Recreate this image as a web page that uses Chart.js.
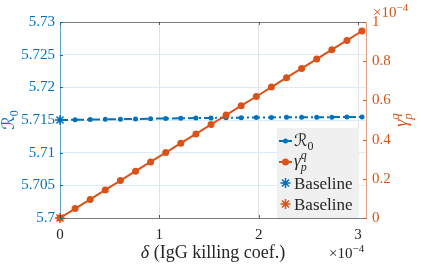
<!DOCTYPE html>
<html>
<head>
<meta charset="utf-8">
<script src="https://cdn.jsdelivr.net/npm/chart.js@4"></script>
<style>
  body { margin: 0; background: #fff; }
  canvas { display: block; }
</style>
</head>
<body>
<canvas id="chart" width="421" height="269"></canvas>
<script>
// delta in units of 1e-4, gamma in units of 1e-4
const delta = [0, 0.152, 0.304, 0.456, 0.608, 0.76, 0.912, 1.064, 1.216, 1.368, 1.52,
               1.672, 1.824, 1.976, 2.128, 2.28, 2.432, 2.584, 2.736, 2.888, 3.04];
const r0 = [5.7150, 5.71503, 5.71506, 5.7151, 5.71513, 5.71516, 5.7152, 5.71523, 5.71526, 5.7153, 5.71532,
            5.71534, 5.71536, 5.71538, 5.7154, 5.71541, 5.71542, 5.71543, 5.71544, 5.71545, 5.71546];
const gamma = [0, 0.048, 0.095, 0.143, 0.191, 0.239, 0.286, 0.334, 0.382, 0.429, 0.477,
               0.525, 0.573, 0.620, 0.668, 0.716, 0.763, 0.811, 0.859, 0.906, 0.954];
const baselineR0 = [5.7150];
const baselineGamma = [0];
const baselineDelta = [0];

const BLUE = '#0072BD';
const ORANGE = '#D95319';
const DARK = '#262626';
const SERIF = '"Liberation Serif", "DejaVu Serif", serif';

// draws a run of text pieces (for sub/superscripts)
function drawRich(ctx, x, y, parts) {
    parts.forEach(p => {
        ctx.font = p.font;
        ctx.fillText(p.t, x, y + (p.dy || 0));
        if (!p.stay) x += ctx.measureText(p.t).width;
    });
}

function widthOf(ctx, parts) {
    let w = 0;
    parts.forEach(p => { ctx.font = p.font; if (!p.stay) w += ctx.measureText(p.t).width; });
    return w;
}

const r0Parts = (size) => [
    {t: 'ℛ', font: `${size}px "DejaVu Serif", "DejaVu Sans", serif`},
    {t: '0', font: `${Math.round(size * 0.7)}px ${SERIF}`, dy: size * 0.25}
];
const gammaParts = (size) => [
    {t: 'γ', font: `italic ${size}px ${SERIF}`},
    {t: 'p', font: `italic ${Math.round(size * 0.7)}px ${SERIF}`, dy: size * 0.3, stay: true},
    {t: 'q', font: `italic ${Math.round(size * 0.7)}px ${SERIF}`, dy: -size * 0.42}
];

const decorPlugin = {
    id: 'decor',
    afterDraw(chart) {
        const {ctx, chartArea: {left, top, right, bottom}, scales} = chart;
        ctx.save();

        // top box line
        ctx.strokeStyle = 'rgba(38,38,38,0.55)';
        ctx.lineWidth = 1;
        ctx.beginPath();
        ctx.moveTo(left, top + 0.5);
        ctx.lineTo(right, top + 0.5);
        ctx.stroke();

        // inward tick marks
        const tl = 3;
        ctx.strokeStyle = 'rgba(38,38,38,0.7)';
        scales.x.ticks.forEach(t => {
            const px = Math.round(scales.x.getPixelForValue(t.value)) + 0.5;
            ctx.beginPath();
            ctx.moveTo(px, bottom); ctx.lineTo(px, bottom - tl);
            ctx.moveTo(px, top); ctx.lineTo(px, top + tl);
            ctx.stroke();
        });
        ctx.strokeStyle = BLUE;
        scales.y.ticks.forEach(t => {
            const py = Math.round(scales.y.getPixelForValue(t.value)) + 0.5;
            ctx.beginPath(); ctx.moveTo(left, py); ctx.lineTo(left + tl, py); ctx.stroke();
        });
        ctx.strokeStyle = ORANGE;
        scales.y1.ticks.forEach(t => {
            const py = Math.round(scales.y1.getPixelForValue(t.value)) + 0.5;
            ctx.beginPath(); ctx.moveTo(right, py); ctx.lineTo(right - tl, py); ctx.stroke();
        });

        ctx.textBaseline = 'alphabetic';
        ctx.textAlign = 'left';

        // x axis title
        ctx.fillStyle = DARK;
        const xParts = [
            {t: 'δ', font: `italic 18px ${SERIF}`},
            {t: ' (IgG killing coef.)', font: `18px ${SERIF}`}
        ];
        const xw = widthOf(ctx, xParts);
        drawRich(ctx, (left + right) / 2 - xw / 2, 258, xParts);

        // exponent labels
        const expParts = [
            {t: '×10', font: `15px ${SERIF}`},
            {t: '−4', font: `11px ${SERIF}`, dy: -6}
        ];
        drawRich(ctx, 329, 258, expParts);
        ctx.fillStyle = ORANGE;
        drawRich(ctx, 373, 17, expParts);

        // left axis title
        ctx.fillStyle = BLUE;
        ctx.save();
        ctx.translate(14, (top + bottom) / 2);
        ctx.rotate(-Math.PI / 2);
        const lp = r0Parts(17);
        drawRich(ctx, -widthOf(ctx, lp) / 2, 0, lp);
        ctx.restore();

        // right axis title
        ctx.fillStyle = ORANGE;
        ctx.save();
        ctx.translate(407, (top + bottom) / 2);
        ctx.rotate(-Math.PI / 2);
        const rp = gammaParts(18);
        drawRich(ctx, -widthOf(ctx, rp) / 2, 0, rp);
        ctx.restore();

        // legend
        const lx = 277, ly = 128, lw = 82, lh = 90;
        ctx.fillStyle = '#f0f0f0';
        ctx.fillRect(lx, ly, lw, lh);
        const rowY = [141, 162, 183, 204];
        const sx0 = lx + 2, sx1 = lx + 15, mx = lx + 8.5, tx = lx + 17;

        // R0 row
        ctx.strokeStyle = BLUE; ctx.fillStyle = BLUE; ctx.lineWidth = 2;
        ctx.beginPath(); ctx.moveTo(sx0, rowY[0]); ctx.lineTo(sx1, rowY[0]); ctx.stroke();
        ctx.beginPath(); ctx.arc(mx, rowY[0], 2.5, 0, Math.PI * 2); ctx.fill();
        ctx.fillStyle = DARK;
        drawRich(ctx, tx, rowY[0] + 5, r0Parts(17));

        // gamma row
        ctx.strokeStyle = ORANGE; ctx.fillStyle = ORANGE;
        ctx.beginPath(); ctx.moveTo(sx0, rowY[1]); ctx.lineTo(sx1, rowY[1]); ctx.stroke();
        ctx.beginPath(); ctx.arc(mx, rowY[1], 3.5, 0, Math.PI * 2); ctx.fill();
        ctx.fillStyle = DARK;
        drawRich(ctx, tx, rowY[1] + 4, gammaParts(17));

        // baseline rows
        ctx.lineWidth = 1.5;
        [[BLUE, rowY[2]], [ORANGE, rowY[3]]].forEach(([c, y]) => {
            ctx.strokeStyle = c;
            ctx.beginPath();
            for (let a = 0; a < 4; a++) {
                const ang = a * Math.PI / 4;
                ctx.moveTo(mx - 5 * Math.cos(ang), y - 5 * Math.sin(ang));
                ctx.lineTo(mx + 5 * Math.cos(ang), y + 5 * Math.sin(ang));
            }
            ctx.stroke();
            ctx.fillStyle = DARK;
            ctx.font = `17px ${SERIF}`;
            ctx.fillText('Baseline', tx, y + 6);
        });

        ctx.restore();
    }
};

const ctx = document.getElementById('chart').getContext('2d');
new Chart(ctx, {
    type: 'line',
    data: {
        datasets: [
            {
                label: 'Baseline R0',
                data: baselineDelta.map((d, i) => ({x: d, y: baselineR0[i]})),
                yAxisID: 'y',
                showLine: false,
                pointStyle: 'star',
                pointRadius: 5,
                pointBorderWidth: 1.5,
                borderColor: BLUE,
                backgroundColor: BLUE,
                order: 0,
                clip: false
            },
            {
                label: 'Baseline gamma',
                data: baselineDelta.map((d, i) => ({x: d, y: baselineGamma[i]})),
                yAxisID: 'y1',
                showLine: false,
                pointStyle: 'star',
                pointRadius: 5,
                pointBorderWidth: 1.5,
                borderColor: ORANGE,
                backgroundColor: ORANGE,
                order: 0,
                clip: false
            },
            {
                label: 'gamma',
                data: delta.map((d, i) => ({x: d, y: gamma[i]})),
                yAxisID: 'y1',
                borderColor: ORANGE,
                backgroundColor: ORANGE,
                borderWidth: 2,
                pointRadius: 3.5,
                pointBorderWidth: 0,
                order: 1,
                clip: false
            },
            {
                label: 'R0',
                data: delta.map((d, i) => ({x: d, y: r0[i]})),
                yAxisID: 'y',
                borderColor: BLUE,
                backgroundColor: BLUE,
                borderWidth: 2,
                borderDash: [8, 3, 2, 3],
                pointRadius: 2.5,
                pointBorderWidth: 0,
                order: 2,
                clip: false
            }
        ]
    },
    options: {
        responsive: false,
        animation: false,
        devicePixelRatio: 1,
        layout: { padding: { top: 22, left: 0, right: 0, bottom: 0 } },
        plugins: {
            legend: { display: false },
            tooltip: { enabled: false }
        },
        scales: {
            x: {
                type: 'linear',
                min: 0,
                max: 3.08,
                afterFit: s => { s.height = 51; },
                border: { color: 'rgba(38,38,38,0.55)' },
                grid: { color: '#e2e2e2', drawTicks: false },
                ticks: {
                    stepSize: 1,
                    includeBounds: false,
                    padding: 8,
                    color: DARK,
                    font: { family: SERIF, size: 15 },
                    callback: v => v
                }
            },
            y: {
                position: 'left',
                min: 5.7,
                max: 5.73,
                afterFit: s => { s.width = 60; },
                border: { color: 'rgba(0,114,189,0.55)' },
                grid: { color: '#dcebf5', drawTicks: false },
                ticks: {
                    stepSize: 0.005,
                    includeBounds: false,
                    padding: 5,
                    color: BLUE,
                    font: { family: SERIF, size: 15 },
                    callback: v => +v.toFixed(3)
                }
            },
            y1: {
                position: 'right',
                min: 0,
                max: 1,
                afterFit: s => { s.width = 55; },
                border: { color: 'rgba(217,83,25,0.55)' },
                grid: { display: false, drawTicks: false },
                ticks: {
                    stepSize: 0.2,
                    includeBounds: false,
                    padding: 6,
                    color: ORANGE,
                    font: { family: SERIF, size: 15 },
                    callback: v => +v.toFixed(1)
                }
            }
        }
    },
    plugins: [decorPlugin]
});
</script>
</body>
</html>
